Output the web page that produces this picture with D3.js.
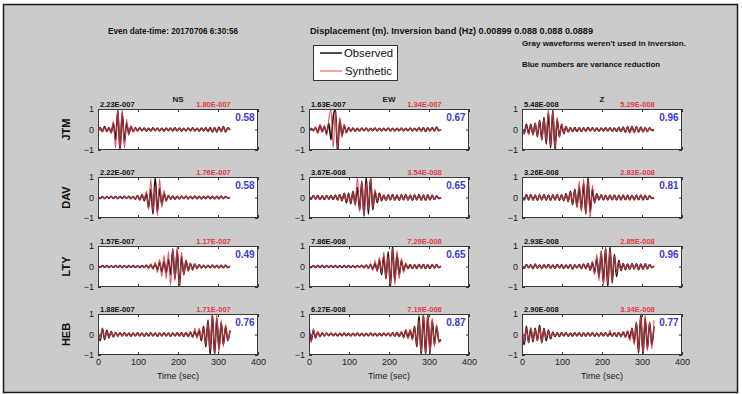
<!DOCTYPE html>
<html>
<head>
<meta charset="utf-8">
<script src="https://cdn.jsdelivr.net/npm/d3@7"></script>
<style>
  html, body { margin: 0; padding: 0; background: #ffffff; }
  svg { display: block; font-family: "Liberation Sans", Arial, sans-serif; }
</style>
</head>
<body>
<svg id="fig" width="742" height="394"></svg>
<script>
// ---- Data --------------------------------------------------------------
const stations = ["JTM", "DAV", "LTY", "HEB"];
const components = ["NS", "EW", "Z"];
const xTicks = [0, 100, 200, 300, 400];
const yTicks = [-1, 0, 1];
const sampleInterval = 5.5; // seconds between stored samples (normalised extrema)

// Peak amplitudes (m), observed / synthetic, by station then component
const obsAmp = [["2.23E-007", "1.63E-007", "5.48E-008"],
                ["2.22E-007", "3.67E-008", "3.26E-008"],
                ["1.57E-007", "7.86E-008", "2.93E-008"],
                ["1.88E-007", "6.27E-008", "2.90E-008"]];
const synAmp = [["1.80E-007", "1.34E-007", "5.29E-008"],
                ["1.76E-007", "3.54E-008", "2.83E-008"],
                ["1.17E-007", "7.29E-008", "2.85E-008"],
                ["1.71E-007", "7.19E-008", "3.34E-008"]];
// Variance reduction per trace
const varRed = [[0.58, 0.67, 0.96],
                [0.58, 0.65, 0.81],
                [0.49, 0.65, 0.96],
                [0.76, 0.87, 0.77]];

// Normalised displacement traces
const JTM_NS_obs = [0, 0.1, -0.1, 0.15, -0.1, 0.1, -0.15, 0.3, -0.5, 0.95, -1.05, 0.8, -0.6, 0.3, -0.2, 0.15,
  -0.1, 0.08, -0.07, 0.08, -0.06, 0.07, -0.08, 0.06, -0.07, 0.08, -0.06, 0.07, -0.07, 0.06, -0.08, 0.07, -0.06, 0.07, -0.07, 0.08,
  -0.06, 0.07, -0.08, 0.06, -0.07, 0.07, -0.06, 0.08, -0.07, 0.06, -0.08, 0.07, -0.07, 0.08, -0.1, 0.09, -0.12, 0.1, -0.13, 0.12,
  -0.1, 0.14, -0.12, 0.08, -0.02];
const JTM_NS_syn = [0.02, 0.08, -0.12, 0.1, -0.08, 0.12, -0.2, 0.4, -0.9, 1.0, -1.0, 1.0, -0.9, 0.5, -0.3, 0.2,
  -0.12, 0.07, -0.06, 0.07, -0.07, 0.06, -0.07, 0.07, -0.06, 0.07, -0.07, 0.06, -0.06, 0.07, -0.07, 0.06, -0.07, 0.06, -0.06, 0.07,
  -0.07, 0.06, -0.07, 0.07, -0.06, 0.06, -0.07, 0.07, -0.06, 0.07, -0.07, 0.06, -0.08, 0.07, -0.09, 0.1, -0.1, 0.11, -0.11, 0.1,
  -0.12, 0.12, -0.1, 0.07, -0.02];
const JTM_EW_obs = [0, 0.05, -0.05, 0.1, -0.15, 0.2, -0.1, 0.15, -0.2, 0.3, -0.5, 0.6, 1.0, -1.1, 0.5, -0.3, 0.2, -0.15,
  0.1, -0.08, 0.07, -0.08, 0.06, -0.07, 0.07, -0.06, 0.07, -0.07, 0.06, -0.06, 0.07, -0.07, 0.06, -0.07, 0.06, -0.06, 0.07, -0.07,
  0.06, -0.07, 0.06, -0.06, 0.07, -0.07, 0.06, -0.06, 0.07, -0.07, 0.06, -0.07, 0.08, -0.07, 0.08, -0.09, 0.08, -0.07, 0.1, -0.08,
  0.12, -0.06, 0.0];
const JTM_EW_syn = [0.02, 0.06, -0.08, 0.12, -0.18, 0.25, -0.15, 0.2, -0.3, 0.5, 1.0, -0.9, 0.9, -0.9, 0.6, -0.4, 0.25, -0.15,
  0.1, -0.07, 0.06, -0.07, 0.06, -0.06, 0.06, -0.06, 0.06, -0.06, 0.05, -0.06, 0.06, -0.06, 0.05, -0.06, 0.06, -0.05, 0.06, -0.06,
  0.05, -0.06, 0.06, -0.05, 0.06, -0.06, 0.05, -0.06, 0.06, -0.06, 0.05, -0.06, 0.07, -0.06, 0.07, -0.08, 0.07, -0.06, 0.09, -0.07,
  0.1, -0.05, 0.0];
const JTM_Z_obs = [0.1, -0.2, 0.25, -0.2, 0.25, -0.25, 0.3, -0.35, 0.45, -0.5, 0.6, -0.7, 0.8, -0.9, 0.95, -1.0, 0.5, -0.35, 0.25,
  -0.2, 0.15, -0.12, 0.1, -0.1, 0.09, -0.1, 0.08, -0.09, 0.08, -0.08, 0.09, -0.07, 0.08, -0.08, 0.07, -0.08, 0.07, -0.07, 0.08,
  -0.07, 0.08, -0.08, 0.07, -0.08, 0.09, -0.1, 0.12, -0.14, 0.15, -0.15, 0.16, -0.14, 0.15, -0.13, 0.12, -0.12, 0.1, -0.1, 0.08,
  -0.05, 0.0];
const JTM_Z_syn = [0.15, -0.22, 0.2, -0.25, 0.22, -0.28, 0.32, -0.3, 0.4, -0.55, 0.55, -0.6, 1.0, -0.8, 0.9, -0.95, 0.6, -0.4, 0.28,
  -0.18, 0.13, -0.1, 0.09, -0.09, 0.08, -0.09, 0.07, -0.08, 0.07, -0.07, 0.08, -0.07, 0.07, -0.07, 0.06, -0.07, 0.07, -0.06, 0.07,
  -0.07, 0.07, -0.07, 0.07, -0.08, 0.08, -0.09, 0.11, -0.13, 0.14, -0.14, 0.15, -0.13, 0.14, -0.12, 0.11, -0.11, 0.09, -0.09, 0.07,
  -0.04, 0.0];

const DAV_NS_obs = [0.02, -0.05, 0.05, -0.06, 0.05, -0.05, 0.06, -0.05, 0.05, -0.06, 0.05, -0.05, 0.06, -0.05, 0.06, -0.06, 0.05, -0.08, 0.1, -0.12,
  0.15, -0.15, 0.2, -0.5, 0.4, -0.8, 1.0, -0.7, 0.45, -0.35, 0.2, -0.15,
  0.1, -0.08, 0.07, -0.08, 0.06, -0.07, 0.07, -0.06, 0.07, -0.07, 0.06, -0.06, 0.07, -0.06, 0.06, -0.07, 0.06, -0.06, 0.07, -0.06,
  0.06, -0.07, 0.06, -0.06, 0.07, -0.06, 0.05, -0.03, 0.0];
const DAV_NS_syn = [0.02, -0.04, 0.04, -0.05, 0.04, -0.04, 0.05, -0.04, 0.04, -0.05, 0.04, -0.04, 0.05, -0.04, 0.05, -0.05, 0.04, -0.06, 0.08, -0.1,
  0.12, -0.1, 0.3, -0.6, 0.9, -0.7, 0.6, -0.9, 0.9, -0.5, 0.35, -0.2,
  0.12, -0.08, 0.06, -0.07, 0.06, -0.06, 0.06, -0.05, 0.06, -0.06, 0.05, -0.05, 0.06, -0.05, 0.05, -0.06, 0.05, -0.05, 0.06, -0.05,
  0.05, -0.06, 0.05, -0.05, 0.06, -0.05, 0.04, -0.03, 0.0];
const DAV_EW_obs = [0.02, -0.08, 0.1, -0.08, 0.09, -0.1, 0.08, -0.09, 0.1, -0.08, 0.09, -0.1, 0.12, -0.12,
  0.15, -0.15, 0.2, -0.25, 0.2, -0.3, 0.3, -0.35, 0.5, -0.6, 0.8, -0.9, 1.0, -0.8, 0.95, -0.6, 0.3, -0.25, 0.2,
  -0.15, 0.12, -0.14, 0.13, -0.12, 0.14, -0.13, 0.12, -0.14, 0.13, -0.12, 0.14, -0.13, 0.12, -0.14, 0.13, -0.12, 0.14, -0.13, 0.12,
  -0.14, 0.13, -0.12, 0.12, -0.1, 0.08, -0.05, 0.0];
const DAV_EW_syn = [0.02, -0.07, 0.09, -0.08, 0.08, -0.09, 0.08, -0.08, 0.09, -0.08, 0.08, -0.09, 0.1, -0.11,
  0.13, -0.14, 0.18, -0.2, 0.18, -0.25, 0.28, -0.4, 1.0, -0.7, 0.8, -0.9, 0.7, -0.6, 1.0, -0.5, 0.4, -0.2, 0.15,
  -0.13, 0.12, -0.13, 0.12, -0.11, 0.13, -0.12, 0.11, -0.13, 0.12, -0.11, 0.13, -0.12, 0.11, -0.13, 0.12, -0.11, 0.13, -0.12, 0.11,
  -0.13, 0.12, -0.11, 0.11, -0.09, 0.07, -0.04, 0.0];
const DAV_Z_obs = [0.02, -0.12, 0.14, -0.12, 0.15, -0.13, 0.12, -0.14, 0.13, -0.12, 0.14, -0.13, 0.12, -0.14, 0.13, -0.12, 0.15, -0.14, 0.13, -0.15, 0.18, -0.2,
  0.3, -0.35, 0.4, -0.45, 0.5, -0.6, 0.7, -0.8, 1.0, -0.7, 0.4, -0.25,
  0.18, -0.12, 0.13, -0.12, 0.11, -0.12, 0.12, -0.11, 0.12, -0.12, 0.11, -0.12, 0.12, -0.11, 0.12, -0.12, 0.11, -0.12, 0.12, -0.11,
  0.12, -0.12, 0.11, -0.1, 0.08, -0.05, 0.0];
const DAV_Z_syn = [0.02, -0.1, 0.12, -0.11, 0.13, -0.12, 0.11, -0.12, 0.12, -0.11, 0.12, -0.12, 0.11, -0.12, 0.12, -0.11, 0.13, -0.12, 0.12, -0.13, 0.15, -0.18,
  0.25, -0.3, 0.35, -0.5, 0.8, -0.7, 0.9, -0.8, 0.9, -1.0, 0.6, -0.3,
  0.15, -0.1, 0.11, -0.1, 0.1, -0.1, 0.1, -0.1, 0.1, -0.1, 0.1, -0.1, 0.1, -0.1, 0.1, -0.1, 0.1, -0.1, 0.1, -0.1,
  0.1, -0.1, 0.1, -0.09, 0.07, -0.04, 0.0];

const LTY_NS_obs = [0.02, -0.04, 0.05, -0.04, 0.05, -0.05, 0.04, -0.05, 0.05, -0.04, 0.05, -0.05, 0.04, -0.05, 0.05, -0.04, 0.05, -0.05, 0.04, -0.05, 0.05, -0.05, 0.06, -0.06, 0.08, -0.1, 0.12,
  -0.15, 0.2, -0.25, 0.25, -0.3, 0.35, -0.4, 0.85, -0.6, 0.8, -1.0, 0.5, -0.4, 0.3, -0.2, 0.15,
  -0.15, 0.12, -0.1, 0.08, -0.07, 0.06, -0.07, 0.06, -0.06, 0.07, -0.06, 0.06, -0.07, 0.06, -0.06, 0.07, -0.05, 0.02];
const LTY_NS_syn = [0.02, -0.03, 0.04, -0.04, 0.04, -0.04, 0.03, -0.04, 0.04, -0.03, 0.04, -0.04, 0.03, -0.04, 0.04, -0.03, 0.04, -0.04, 0.03, -0.04, 0.05, -0.05, 0.08, -0.12, 0.15, -0.15, 0.2,
  -0.3, 0.35, -0.5, 0.55, -0.6, 0.7, -0.9, 0.9, -0.7, 1.0, -1.0, 0.7, -0.4, 0.3, -0.25, 0.18,
  -0.2, 0.15, -0.1, 0.07, -0.06, 0.05, -0.06, 0.05, -0.05, 0.06, -0.05, 0.05, -0.06, 0.05, -0.05, 0.06, -0.04, 0.02];
const LTY_EW_obs = [0.02, -0.05, 0.04, -0.05, 0.05, -0.04, 0.05, -0.05, 0.04, -0.05, 0.05, -0.04, 0.05, -0.05, 0.04, -0.05, 0.05, -0.04, 0.05, -0.05, 0.04, -0.05, 0.05, -0.04, 0.06, -0.06, 0.07, -0.08, 0.1, -0.12,
  0.15, -0.2, 0.3, -0.4, 0.5, -0.6, 0.7, -1.0, 1.0, -0.7, 0.6, -0.4, 0.3,
  -0.2, 0.12, -0.1, 0.09, -0.1, 0.08, -0.09, 0.1, -0.08, 0.09, -0.1, 0.08, -0.09, 0.1, -0.08, 0.09, -0.06, 0.02];
const LTY_EW_syn = [0.02, -0.04, 0.04, -0.04, 0.04, -0.04, 0.04, -0.04, 0.04, -0.04, 0.04, -0.04, 0.04, -0.04, 0.04, -0.04, 0.04, -0.04, 0.04, -0.04, 0.04, -0.04, 0.05, -0.05, 0.06, -0.07, 0.08, -0.1, 0.15, -0.2,
  0.3, -0.25, 0.45, -0.3, 0.7, -0.6, 0.5, -0.9, 0.9, -0.9, 0.8, -0.6, 0.4,
  -0.3, 0.18, -0.12, 0.1, -0.09, 0.08, -0.08, 0.09, -0.08, 0.08, -0.09, 0.08, -0.08, 0.09, -0.08, 0.08, -0.05, 0.02];
const LTY_Z_obs = [0.02, -0.08, 0.1, -0.06, 0.08, -0.1, 0.12, -0.08, 0.07, -0.09, 0.08, -0.07, 0.09, -0.08, 0.07, -0.08, 0.09, -0.07, 0.08, -0.09, 0.07, -0.08, 0.1, -0.12, 0.08, -0.07, 0.09, -0.1, 0.12, -0.1, 0.14, -0.18,
  0.2, -0.3, 0.4, -0.5, 0.7, -0.8, 0.9, -1.0, 0.95, -0.8, 0.6, -0.5, 0.3, -0.2, 0.15,
  -0.15, 0.12, -0.14, 0.15, -0.12, 0.13, -0.15, 0.12, -0.14, 0.13, -0.12, 0.1, -0.06, 0.02];
const LTY_Z_syn = [0.02, -0.06, 0.08, -0.05, 0.07, -0.08, 0.1, -0.07, 0.06, -0.08, 0.07, -0.06, 0.08, -0.07, 0.06, -0.07, 0.08, -0.06, 0.07, -0.08, 0.06, -0.07, 0.09, -0.1, 0.07, -0.06, 0.08, -0.09, 0.1, -0.09, 0.12, -0.15,
  0.25, -0.4, 0.6, -0.7, 0.8, -0.9, 1.0, -0.85, 0.85, -0.7, 0.5, -0.35, 0.25, -0.18, 0.14,
  -0.13, 0.11, -0.12, 0.13, -0.11, 0.12, -0.13, 0.11, -0.12, 0.12, -0.11, 0.09, -0.05, 0.02];

const HEB_NS_obs = [0.1, -0.3, 0.3, -0.25, 0.2, -0.15, 0.15, -0.12, 0.1, -0.08, 0.08, -0.07, 0.08, -0.07, 0.07, -0.08, 0.07, -0.07, 0.08, -0.07,
  0.07, -0.08, 0.07, -0.07, 0.08, -0.07, 0.07, -0.08, 0.07, -0.07, 0.08, -0.07, 0.07, -0.08, 0.07, -0.07, 0.08, -0.07, 0.08, -0.09,
  0.1, -0.1, 0.12, -0.12, 0.15, -0.1,
  0.2, -0.3, 0.4, -0.6, 0.7, -1.0, 1.0, -1.0, 0.8, -0.7, 0.6, -0.5, 0.4, -0.3, 0.2];
const HEB_NS_syn = [0.2, -0.25, 0.3, -0.2, 0.15, -0.12, 0.12, -0.1, 0.08, -0.07, 0.07, -0.06, 0.07, -0.06, 0.06, -0.07, 0.06, -0.06, 0.07, -0.06,
  0.06, -0.07, 0.06, -0.06, 0.07, -0.06, 0.06, -0.07, 0.06, -0.06, 0.07, -0.06, 0.06, -0.07, 0.06, -0.06, 0.07, -0.06, 0.07, -0.08,
  0.1, -0.12, 0.15, -0.15, 0.3, -0.2,
  0.3, -0.2, 0.3, -0.5, 0.6, -0.8, 1.0, -1.0, 1.0, -0.9, 0.7, -0.6, 0.5, -0.3, 0.2];
const HEB_EW_obs = [0.4, -0.3, 0.2, -0.15, 0.12, -0.1, 0.08, -0.07, 0.07, -0.06, 0.07, -0.06, 0.06, -0.07, 0.06, -0.06, 0.07, -0.06, 0.06, -0.07,
  0.06, -0.06, 0.07, -0.06, 0.06, -0.07, 0.06, -0.06, 0.07, -0.06, 0.06, -0.07, 0.06, -0.06, 0.07, -0.06, 0.07, -0.07, 0.08, -0.08,
  0.09, -0.1, 0.12, -0.12, 0.2, -0.15,
  0.2, -0.2, 0.4, -0.6, 0.9, -1.0, 1.0, -1.0, 1.0, -0.9, 0.7, -0.5, 0.4, -0.3, -0.25];
const HEB_EW_syn = [0.1, -0.4, 0.3, -0.2, 0.15, -0.12, 0.1, -0.08, 0.07, -0.06, 0.06, -0.05, 0.06, -0.05, 0.05, -0.06, 0.05, -0.05, 0.06, -0.05,
  0.05, -0.06, 0.05, -0.05, 0.06, -0.05, 0.05, -0.06, 0.05, -0.05, 0.06, -0.05, 0.06, -0.06, 0.06, -0.06, 0.07, -0.07, 0.08, -0.08,
  0.1, -0.12, 0.15, -0.2, 0.25, -0.2,
  0.25, -0.3, 0.35, -0.5, 0.7, -0.9, 1.0, -1.0, 1.0, -1.0, 0.8, -0.6, 0.5, -0.4, -0.3];
const HEB_Z_obs = [0.2, -0.5, 0.4, -0.4, 0.3, -0.35, 0.3, -0.3, 0.45, -0.4, 0.3, -0.3, 0.2, -0.2, 0.12,
  -0.1, 0.08, -0.09, 0.08, -0.07, 0.08, -0.08, 0.07, -0.08, 0.08, -0.07, 0.08, -0.08, 0.07, -0.08, 0.08, -0.07, 0.08, -0.08, 0.07,
  -0.08, 0.08, -0.07, 0.08, -0.08, 0.07, -0.08, 0.08, -0.09, 0.1, -0.1, 0.12, -0.12, 0.15, -0.2,
  0.3, -0.4, 0.6, -0.9, 1.0, -1.0, 0.8, -0.7, 0.6, -0.5, 0.4];
const HEB_Z_syn = [0.8, -0.4, 0.3, -0.4, 0.35, -0.3, 0.25, -0.3, 0.35, -0.35, 0.25, -0.2, 0.15, -0.15, 0.1,
  -0.08, 0.07, -0.07, 0.06, -0.06, 0.07, -0.06, 0.06, -0.07, 0.06, -0.06, 0.07, -0.06, 0.06, -0.07, 0.06, -0.06, 0.07, -0.06, 0.06,
  -0.07, 0.06, -0.06, 0.07, -0.1, 0.2, -0.1, 0.08, -0.08, 0.1, -0.12, 0.15, -0.15, 0.2, -0.3,
  0.3, -0.5, 0.6, -0.8, 0.9, -1.0, 1.0, -0.8, 0.6, -0.7, 0.7];

const observed = [[JTM_NS_obs, JTM_EW_obs, JTM_Z_obs],
                  [DAV_NS_obs, DAV_EW_obs, DAV_Z_obs],
                  [LTY_NS_obs, LTY_EW_obs, LTY_Z_obs],
                  [HEB_NS_obs, HEB_EW_obs, HEB_Z_obs]];
const synthetic = [[JTM_NS_syn, JTM_EW_syn, JTM_Z_syn],
                   [DAV_NS_syn, DAV_EW_syn, DAV_Z_syn],
                   [LTY_NS_syn, LTY_EW_syn, LTY_Z_syn],
                   [HEB_NS_syn, HEB_EW_syn, HEB_Z_syn]];

// ---- Layout ------------------------------------------------------------
const colLeft = [98, 309, 522];
const rowTop = [109, 177, 246, 314];
const axW = 160, axH = 41;
const OBS_COLOR = "#111111";
const SYN_COLOR = "#e23a44";

const svg = d3.select("#fig");

// figure background and frame
svg.append("rect").attr("x", 3.5).attr("y", 4.5).attr("width", 734).attr("height", 388)
  .attr("fill", "#cbcbcb").attr("stroke", "#1a1a1a").attr("stroke-width", 1.5);

// header lines
const header = svg.append("g").attr("font-weight", "bold").attr("fill", "#111");
header.append("text").attr("x", 108).attr("y", 34).attr("font-size", 9.5)
  .attr("textLength", 130).attr("lengthAdjust", "spacingAndGlyphs")
  .text("Even date-time: 20170706  6:30:56");
header.append("text").attr("x", 310).attr("y", 34).attr("font-size", 9.5)
  .attr("textLength", 283).attr("lengthAdjust", "spacingAndGlyphs")
  .text("Displacement (m).  Inversion band (Hz)  0.00899 0.088 0.088 0.0889");
header.append("text").attr("x", 522).attr("y", 46).attr("font-size", 7.5)
  .attr("textLength", 164).attr("lengthAdjust", "spacingAndGlyphs")
  .text("Gray waveforms weren't used in inversion.");
header.append("text").attr("x", 522).attr("y", 67).attr("font-size", 7.5)
  .attr("textLength", 138).attr("lengthAdjust", "spacingAndGlyphs")
  .text("Blue numbers are variance reduction");

// legend
const lg = svg.append("g");
lg.append("rect").attr("x", 313.5).attr("y", 45.5).attr("width", 84).attr("height", 35)
  .attr("fill", "#fff").attr("stroke", "#333").attr("stroke-width", 1);
lg.append("line").attr("x1", 320).attr("x2", 342).attr("y1", 53).attr("y2", 53)
  .attr("stroke", OBS_COLOR).attr("stroke-width", 1.5);
lg.append("line").attr("x1", 320).attr("x2", 342).attr("y1", 71).attr("y2", 71)
  .attr("stroke", "#f08a8a").attr("stroke-width", 1.5);
lg.append("text").attr("x", 344).attr("y", 57).attr("font-size", 11).attr("fill", "#111")
  .attr("textLength", 49).attr("lengthAdjust", "spacingAndGlyphs").text("Observed");
lg.append("text").attr("x", 345).attr("y", 75).attr("font-size", 11).attr("fill", "#111")
  .attr("textLength", 47).attr("lengthAdjust", "spacingAndGlyphs").text("Synthetic");

const defs = svg.append("defs");

stations.forEach((st, r) => {
  components.forEach((comp, c) => {
    const left = colLeft[c], top = rowTop[r];
    const x = d3.scaleLinear().domain([0, 400]).range([left, left + axW]);
    const y = d3.scaleLinear().domain([-1, 1]).range([top + axH, top]);
    const g = svg.append("g");

    g.append("rect").attr("x", left).attr("y", top).attr("width", axW).attr("height", axH)
      .attr("fill", "#fff");

    const clipId = `clip-${r}-${c}`;
    defs.append("clipPath").attr("id", clipId).append("rect")
      .attr("x", left).attr("y", top).attr("width", axW).attr("height", axH);

    const line = d3.line()
      .x((d, i) => x(i * sampleInterval))
      .y(d => y(d))
      .curve(d3.curveMonotoneX);

    const traces = g.append("g").attr("clip-path", `url(#${clipId})`);
    traces.append("path").datum(observed[r][c]).attr("d", line)
      .attr("fill", "none").attr("stroke", OBS_COLOR).attr("stroke-width", 1.6);
    traces.append("path").datum(synthetic[r][c]).attr("d", line)
      .attr("fill", "none").attr("stroke", SYN_COLOR).attr("stroke-width", 1.1)
      .attr("stroke-opacity", 0.85);

    // axes with inward ticks on all four sides
    const showX = r === stations.length - 1;
    const ax = [
      g.append("g").attr("transform", `translate(0,${top + axH})`)
        .call(d3.axisBottom(x).tickValues(xTicks).tickSizeInner(-3).tickSizeOuter(0)
          .tickPadding(4).tickFormat(showX ? d3.format("d") : () => "")),
      g.append("g").attr("transform", `translate(0,${top})`)
        .call(d3.axisTop(x).tickValues(xTicks).tickSizeInner(-3).tickSizeOuter(0).tickFormat(() => "")),
      g.append("g").attr("transform", `translate(${left},0)`)
        .call(d3.axisLeft(y).tickValues(yTicks).tickSizeInner(-3).tickSizeOuter(0)
          .tickPadding(4).tickFormat(d3.format("d"))),
      g.append("g").attr("transform", `translate(${left + axW},0)`)
        .call(d3.axisRight(y).tickValues(yTicks).tickSizeInner(-3).tickSizeOuter(0).tickFormat(() => ""))
    ];
    ax.forEach(a => {
      a.select(".domain").remove();
      a.selectAll(".tick line").attr("stroke", "#333");
      a.selectAll("text").attr("font-size", 9).attr("fill", "#222")
        .attr("font-family", "'Liberation Sans', Arial, sans-serif");
    });

    g.append("rect").attr("x", left + 0.5).attr("y", top + 0.5).attr("width", axW - 1).attr("height", axH - 1)
      .attr("fill", "none").attr("stroke", "#3a3a3a").attr("stroke-width", 1);

    // amplitude and variance-reduction labels
    g.append("text").attr("x", left + 2).attr("y", top - 2).attr("font-size", 7.5)
      .attr("font-weight", "bold").attr("fill", "#111").text(obsAmp[r][c]);
    g.append("text").attr("x", x(332)).attr("y", top - 2).attr("font-size", 7.5)
      .attr("text-anchor", "end").attr("font-weight", "bold").attr("fill", SYN_COLOR).text(synAmp[r][c]);
    g.append("text").attr("x", x(343)).attr("y", top + 12).attr("font-size", 10)
      .attr("font-weight", "bold").attr("fill", "#3b3bd0").text(varRed[r][c].toFixed(2));

    if (r === 0) {
      g.append("text").attr("x", left + axW / 2).attr("y", top - 7).attr("font-size", 8)
        .attr("text-anchor", "middle").attr("font-weight", "bold").attr("fill", "#222").text(comp);
    }
    if (showX) {
      g.append("text").attr("x", left + axW / 2).attr("y", top + axH + 24).attr("font-size", 9)
        .attr("text-anchor", "middle").attr("fill", "#222").text("Time (sec)");
    }
    if (c === 0) {
      g.append("text").attr("transform", `translate(${left - 28},${top + axH / 2}) rotate(-90)`)
        .attr("font-size", 11).attr("font-weight", "bold").attr("text-anchor", "middle")
        .attr("fill", "#111").text(st);
    }
  });
});
</script>
</body>
</html>
